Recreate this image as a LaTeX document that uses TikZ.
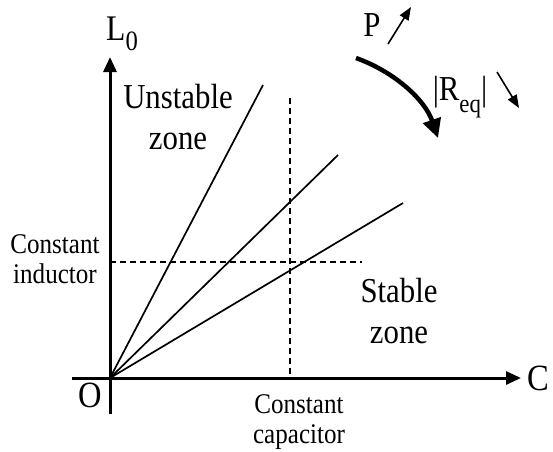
\documentclass[tikz,border=0pt]{standalone}
\usepackage{fontspec}
\setmainfont{Liberation Serif}[FakeStretch=0.88]
\usetikzlibrary{arrows.meta}
\tikzset{
	axis/.style={line width=3pt, -{Triangle[length=15pt, width=13pt]}},
	ray/.style={line width=1.7pt},
	guide/.style={line width=1.3pt, dash pattern=on 6pt off 4pt},
	bigtext/.style={font=\fontsize{35}{41}\selectfont, align=center, inner sep=0pt},
	smalltext/.style={font=\fontsize{28.5}{29.5}\selectfont, align=center, inner sep=0pt},
	trend/.style={line width=1.6pt, -{Triangle[length=13pt, width=10pt]}},
	sweep/.style={line width=4.5pt, -{Triangle[length=19pt, width=18pt]}},
}
\begin{document}
\begin{tikzpicture}[x=1pt, y=-1pt]
	\useasboundingbox (0,0) rectangle (553,451);
	% axes
	\coordinate (O) at (110,378);
	\coordinate (xstart) at (72,378);
	\coordinate (xend) at (521,378);
	\coordinate (ystart) at (110,414);
	\coordinate (yend) at (110,57);
	\draw[axis] (xstart) -- (xend);
	\draw[axis] (ystart) -- (yend);
	% rays from the origin
	\coordinate (r1) at (263,85);
	\coordinate (r2) at (338,155);
	\coordinate (r3) at (403,203);
	\draw[ray] (O) -- (r1);
	\draw[ray] (O) -- (r2);
	\draw[ray] (O) -- (r3);
	% constant lines
	\coordinate (hl) at (110,262);
	\coordinate (hr) at (362,262);
	\coordinate (vt) at (290,98);
	\coordinate (vb) at (290,378);
	\draw[guide] (hl) -- (hr);
	\draw[guide] (vt) -- (vb);
	% labels
	\node[bigtext, anchor=west, font=\fontsize{37}{41}\selectfont] (clab) at (527,378) {C};
	\node[bigtext, anchor=base west, font=\fontsize{36}{41}\selectfont] (llab) at (106,40) {L\raisebox{-0.28em}{\fontsize{28}{28}\selectfont 0}};
	\node[bigtext, font=\fontsize{37}{41}\selectfont] (olab) at (90,395) {O};
	\node[bigtext] (unstable) at (178,117) {Unstable\\zone};
	\node[bigtext] (stable) at (399,311) {Stable\\zone};
	\node[smalltext] (inductor) at (55,259) {Constant\\inductor};
	\node[smalltext] (capacitor) at (299,422) {Constant\\capacitor};
	\node[bigtext] (plab) at (372,25) {P};
	\node[bigtext] (rlab) at (460,97) {|R\raisebox{-0.33em}{\fontsize{26}{26}\selectfont eq}|};
	% trend arrows
	\coordinate (pa) at (388,44);
	\coordinate (pb) at (411,7);
	\coordinate (ra) at (497,72);
	\coordinate (rb) at (519,108);
	\draw[trend] (pa) -- (pb);
	\draw[trend] (ra) -- (rb);
	\coordinate (sa) at (356,58);
	\coordinate (sb) at (438,138);
	\draw[sweep] (sa) .. controls (395,72) and (425,100) .. (sb);
\end{tikzpicture}
\end{document}
